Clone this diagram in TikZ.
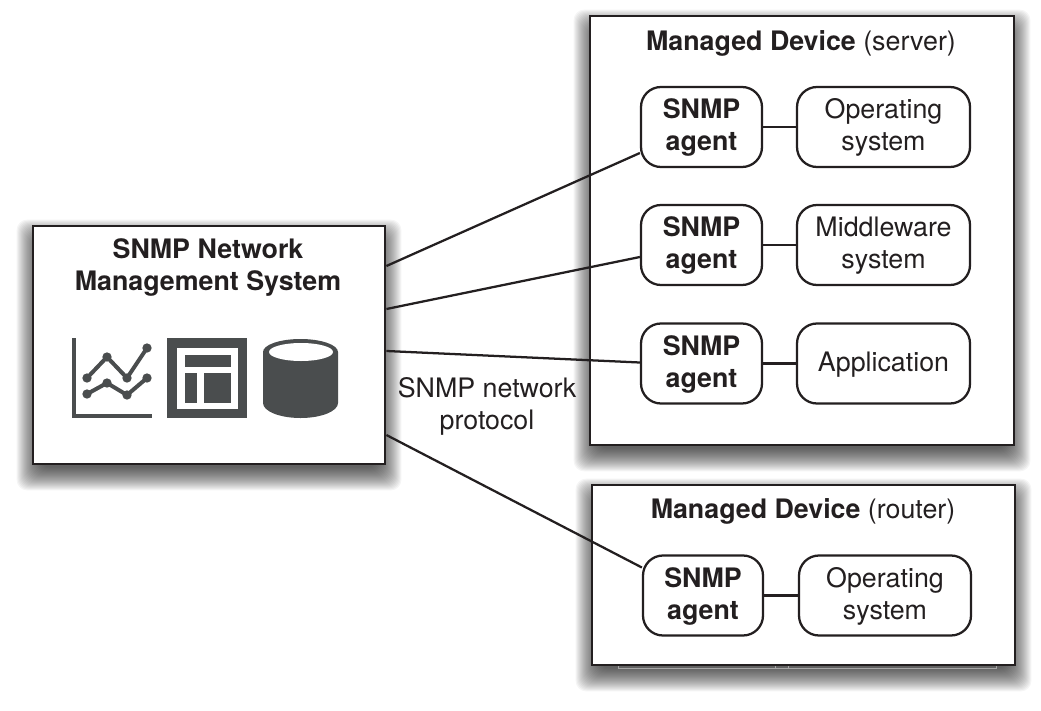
\documentclass[tikz,border=0pt]{standalone}
\usepackage{fontspec}
\setmainfont{TeX Gyre Heros}
\usetikzlibrary{calc}
\pgfdeclarelayer{shadowlayer}
\pgfsetlayers{shadowlayer,main}
\definecolor{ink}{HTML}{231F20}
\definecolor{icon}{HTML}{4A4D4E}
\newcommand{\lead}{\rule{0pt}{16.2pt}}
\newcommand{\softshadow}[1]{%
  \begin{pgfonlayer}{shadowlayer}
    \foreach \r in {15,14,...,-8}{
      \fill[black,opacity=.04,rounded corners=8pt]
        ($(#1.north west)+(-\r,10-\r)$) rectangle ($(#1.south east)+(\r,10+\r)$);
    }
  \end{pgfonlayer}}
\tikzset{
  x=0.75pt,y=-0.75pt,
  every node/.style={text=ink,font=\fontsize{20.1}{24}\selectfont,align=center,inner sep=0pt},
  panel/.style={draw=ink,line width=2.1pt,fill=white},
  roundbox/.style={draw=ink,line width=1.7pt,fill=white,rounded corners=15pt,minimum width=#1*0.75pt,minimum height=60pt},
  link/.style={draw=ink,line width=1.7pt},
  iconline/.style={draw=icon,line width=3pt,line join=round},
  dot/.style={fill=icon,draw=none,circle,minimum size=7pt}
}
\begin{document}
\begin{tikzpicture}
\useasboundingbox (0,0) rectangle (1041,710);
% panels
\node[panel,minimum width=264pt,minimum height=178.5pt] (nms) at (209,345) {};
\node[panel,minimum width=318pt,minimum height=321.75pt] (server) at (802,230.5) {};
\node[panel,minimum width=317.25pt,minimum height=135pt] (router) at (803.5,575) {};
\softshadow{nms}\softshadow{server}\softshadow{router}
\begin{pgfonlayer}{shadowlayer}
  \draw[gray!70,line width=.6pt] (618,665) -- (618,668.5) -- (996,668.5) -- (996,665)
    (775,665) -- (775,668.5) (788,665) -- (788,668.5);
\end{pgfonlayer}
% titles
\node (nmstitle) at (208,268) {\textbf{SNMP Network}\\\textbf{Management System}};
\node (servertitle) at (801,43.5) {\textbf{Managed Device} (server)};
\node (routertitle) at (803,511) {\textbf{Managed Device} (router)};
\node (proto) at (487,406.5) {SNMP network\\protocol};
% server contents
\node[roundbox=121] (a1) at (701.5,127) {\lead\textbf{SNMP}\\\textbf{agent}};
\node[roundbox=121] (a2) at (701.5,245) {\lead\textbf{SNMP}\\\textbf{agent}};
\node[roundbox=121] (a3) at (701.5,363.5) {\lead\textbf{SNMP}\\\textbf{agent}};
\node[roundbox=173] (os1) at (883.5,127) {\lead Operating\\system};
\node[roundbox=173] (mw) at (883.5,245) {\lead Middleware\\system};
\node[roundbox=173] (app) at (883.5,363.5) {\lead Application};
% router contents
\node[roundbox=120] (a4) at (703,595.5) {\lead\textbf{SNMP}\\\textbf{agent}};
\node[roundbox=172] (os2) at (885,595.5) {\lead Operating\\system};
% connectors
\draw[link] (a1) -- (os1);
\draw[link] (a2) -- (mw);
\draw[link] (a3) -- (app);
\draw[link] (a4) -- (os2);
\draw[link] ($(nms.east)+(0,-79)$) -- ($(a1.west)+(0,26)$);
\draw[link] ($(nms.east)+(0,-36)$) -- ($(a2.west)+(0,12)$);
\draw[link] ($(nms.east)+(0,6)$) -- ($(a3.west)+(0,-1)$);
\draw[link] ($(nms.east)+(0,90)$) -- ($(a4.west)+(0,-28)$);
% chart icon
\draw[draw=icon,line width=3.6pt] (74,338) -- (74,416) -- (152,416);
\draw[iconline] (87,378) -- (107,357) -- (127,378) -- (147,348);
\draw[iconline] (87,394) -- (107,383) -- (127,395) -- (147,378);
\foreach \p [count=\i] in {(87,378),(107,357),(127,378),(147,348),(87,394),(107,383),(127,395),(147,378)}
  \node[dot] (pt\i) at \p {};
% window icon
\fill[icon] (167,338) rectangle (247,418);
\fill[white] (177,348) rectangle (238,409);
\fill[icon] (185,355) rectangle (231,367);
\fill[icon] (185,373) rectangle (197,403);
\fill[icon] (204,373) rectangle (231,403);
% cylinder icon
\fill[icon] (263,352) arc[start angle=180,end angle=360,x radius=37.5,y radius=13]
  -- (338,403) arc[start angle=0,end angle=180,x radius=37.5,y radius=15] -- cycle;
\fill[white] (301,352) ellipse[x radius=32,y radius=9];
\end{tikzpicture}
\end{document}
